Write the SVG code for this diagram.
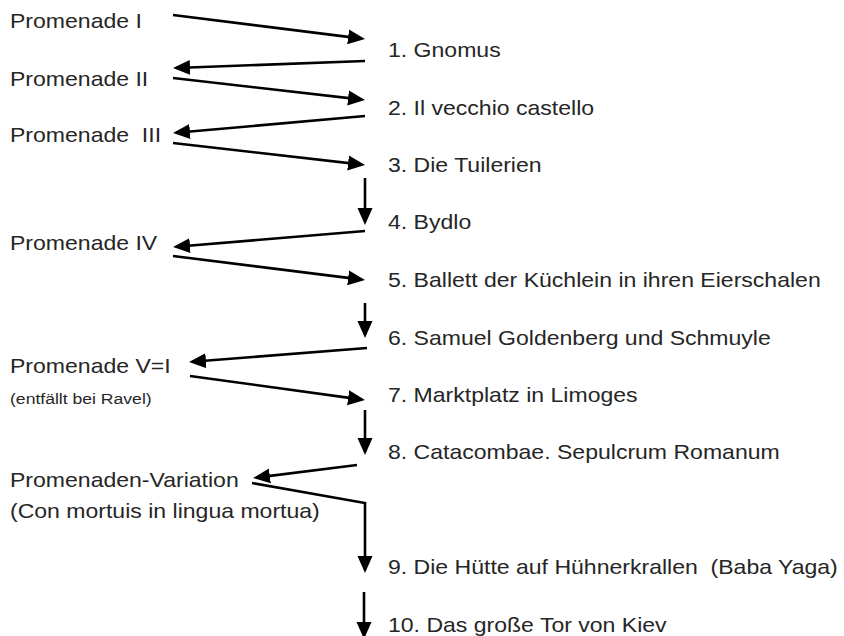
<svg xmlns="http://www.w3.org/2000/svg" width="844" height="636" viewBox="0 0 844 636">
<style>
  .t { font-family: "Liberation Sans", Arial, sans-serif; font-size: 20.3px; fill: #262626; white-space: pre; }
  .s { font-family: "Liberation Sans", Arial, sans-serif; font-size: 15.5px; fill: #262626; white-space: pre; }
  .c line, .c polyline { stroke: #000; stroke-width: 2.6; fill: none; marker-end: url(#ah); }
</style>
<defs>
  <marker id="ah" markerUnits="userSpaceOnUse" markerWidth="18" markerHeight="16" viewBox="0 0 18 16" refX="14" refY="8" orient="auto">
    <path d="M0,0.5 L17,8 L0,15.5 Z" fill="#000"/>
  </marker>
</defs>
<rect width="844" height="636" fill="#fff"/>
<g id="prom1"><text class="t" transform="translate(10,28) scale(1.135,1)">Promenade I</text></g>
<g id="prom2"><text class="t" transform="translate(10,86) scale(1.135,1)">Promenade II</text></g>
<g id="prom3"><text class="t" transform="translate(10,142) scale(1.135,1)">Promenade  III</text></g>
<g id="prom4"><text class="t" transform="translate(10,250) scale(1.135,1)">Promenade IV</text></g>
<g id="prom5"><text class="t" transform="translate(10,373) scale(1.135,1)">Promenade V=I</text>
  <text class="s" transform="translate(10,404) scale(1.135,1)">(entfällt bei Ravel)</text></g>
<g id="promvar"><text class="t" transform="translate(10,487) scale(1.135,1)">Promenaden-Variation</text>
  <text class="t" transform="translate(10,518) scale(1.135,1)">(Con mortuis in lingua mortua)</text></g>
<g id="n1"><text class="t" transform="translate(388,57) scale(1.135,1)">1. Gnomus</text></g>
<g id="n2"><text class="t" transform="translate(388,115) scale(1.135,1)">2. Il vecchio castello</text></g>
<g id="n3"><text class="t" transform="translate(388,172) scale(1.135,1)">3. Die Tuilerien</text></g>
<g id="n4"><text class="t" transform="translate(388,229) scale(1.135,1)">4. Bydlo</text></g>
<g id="n5"><text class="t" transform="translate(388,287) scale(1.135,1)">5. Ballett der Küchlein in ihren Eierschalen</text></g>
<g id="n6"><text class="t" transform="translate(388,345) scale(1.135,1)">6. Samuel Goldenberg und Schmuyle</text></g>
<g id="n7"><text class="t" transform="translate(388,402) scale(1.135,1)">7. Marktplatz in Limoges</text></g>
<g id="n8"><text class="t" transform="translate(388,459) scale(1.135,1)">8. Catacombae. Sepulcrum Romanum</text></g>
<g id="n9"><text class="t" transform="translate(388,574) scale(1.135,1)">9. Die Hütte auf Hühnerkrallen  (Baba Yaga)</text></g>
<g id="n10"><text class="t" transform="translate(388,632) scale(1.135,1)">10. Das große Tor von Kiev</text></g>
<g id="connectors" class="c">
  <line x1="173" y1="15" x2="362" y2="38.6"/>
  <line x1="365" y1="61" x2="176" y2="68"/>
  <line x1="173" y1="78" x2="362" y2="99.6"/>
  <line x1="365" y1="116" x2="176" y2="132.8"/>
  <line x1="173" y1="143" x2="362" y2="164.6"/>
  <line x1="365" y1="178" x2="365" y2="222"/>
  <line x1="365" y1="231" x2="176" y2="246.8"/>
  <line x1="173" y1="256" x2="362" y2="279.6"/>
  <line x1="365" y1="303" x2="365" y2="335"/>
  <line x1="367" y1="348" x2="192" y2="361.8"/>
  <line x1="190" y1="376" x2="362" y2="399.6"/>
  <line x1="365" y1="410" x2="365" y2="452"/>
  <line x1="357" y1="465" x2="256" y2="477.6"/>
  <polyline points="252,483 365,503 365,570"/>
  <line x1="364" y1="592" x2="364" y2="636"/>
</g>
</svg>
